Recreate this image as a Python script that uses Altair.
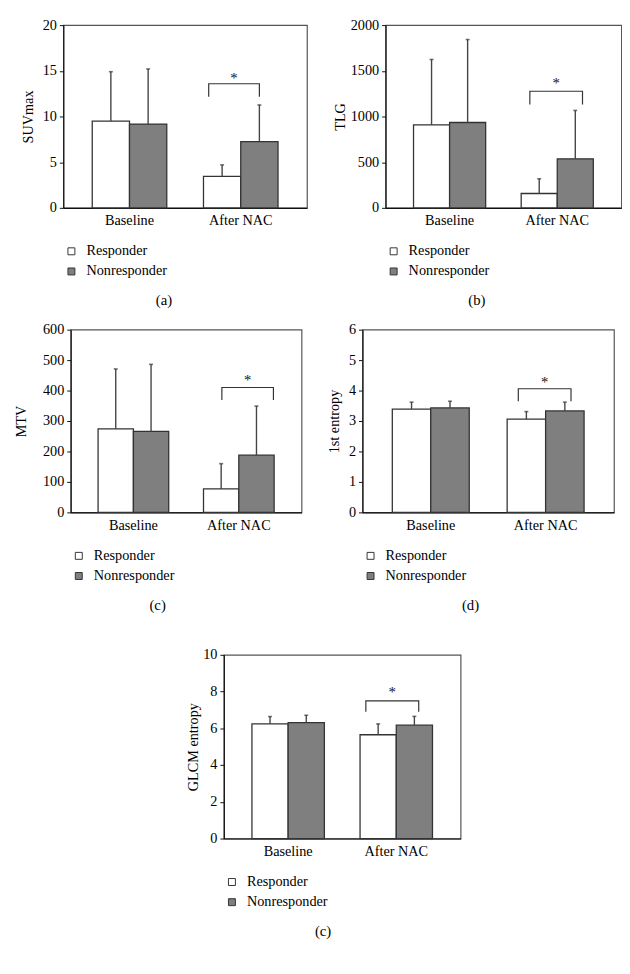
import altair as alt
import pandas as pd

FONT = "Liberation Serif"

groups = ["Baseline", "After NAC"]
series = ["Responder", "Nonresponder"]

# order: Baseline-Responder, Baseline-Nonresponder, AfterNAC-Responder, AfterNAC-Nonresponder
suv_mean = [9.49, 9.17, 3.44, 7.24]
suv_upper = [14.9, 15.2, 4.7, 11.26]
tlg_mean = [908, 934, 157, 537]
tlg_upper = [1624, 1842, 318, 1066]
mtv_mean = [274, 266, 77, 188]
mtv_upper = [471, 486, 160, 349]
ent_mean = [3.39, 3.43, 3.06, 3.33]
ent_upper = [3.62, 3.65, 3.31, 3.62]
glcm_mean = [6.24, 6.31, 5.65, 6.17]
glcm_upper = [6.64, 6.71, 6.24, 6.65]

# significance bracket: leg bottom, top, star level (data units of each panel)
suv_sig = [12.15, 13.58, 14.2]
tlg_sig = [1132, 1276, 1365]
mtv_sig = [369, 410, 436]
ent_sig = [3.65, 4.06, 4.28]
glcm_sig = [6.9, 7.49, 7.97]
# bracket ends as fraction of the After-NAC group band
suv_br = [0.07, 0.75]
tlg_br = [0.12, 0.85]
mtv_br = [0.26, 0.99]
ent_br = [0.145, 0.83]
glcm_br = [0.08, 0.81]

DARK = "#333333"


def panel(ytitle, ymax, ystep, means, uppers, sig, br, caption, width, ext, tpad, height=186):
    df = pd.DataFrame({
        "group": [g for g in groups for _ in series],
        "series": [s for _ in groups for s in series],
        "value": means,
        "upper": uppers,
    })
    bdf = pd.DataFrame({
        "group": ["After NAC"] * 4,
        "pos": [br[0], br[0], br[1], br[1]],
        "val": [sig[0], sig[1], sig[1], sig[0]],
        "ord": [0, 1, 2, 3],
    })
    sdf = pd.DataFrame({"group": ["After NAC"], "pos": [(br[0] + br[1]) / 2], "val": [sig[2]]})

    x = alt.X("group:N", sort=groups, title=None,
              scale=alt.Scale(domain=groups, paddingInner=0.33, paddingOuter=0.26),
              axis=alt.Axis(labelAngle=0, ticks=False, domainColor="#111", domainWidth=1.2,
                            labelFont=FONT, labelFontSize=14.5, labelColor="black", labelPadding=6))

    def yq(field):
        return alt.Y(field, title=ytitle,
                     scale=alt.Scale(domain=[0, ymax], nice=False, zero=True),
                     axis=alt.Axis(values=list(range(0, ymax + 1, ystep)), format="d", grid=False,
                                   tickSize=4, tickColor="#111", domainColor="#111", domainWidth=1.2,
                                   labelFont=FONT, labelFontSize=14.5, labelColor="black", labelPadding=3,
                                   minExtent=ext, maxExtent=ext,
                                   titleFont=FONT, titleFontSize=14.5, titleFontWeight="normal",
                                   titleColor="black", titlePadding=tpad))

    xo = alt.XOffset("series:N", sort=series, scale=alt.Scale(domain=series, paddingInner=0, paddingOuter=0))
    xq = alt.XOffset("pos:Q", scale=alt.Scale(domain=[0, 1], nice=False, zero=False))

    bars = alt.Chart(df).mark_bar(stroke=DARK, strokeWidth=1.3).encode(
        x=x, xOffset=xo, y=yq("value:Q"),
        color=alt.Color("series:N", sort=series,
                        scale=alt.Scale(domain=series, range=["#ffffff", "#7f7f7f"]),
                        legend=alt.Legend(orient="none", legendX=1, legendY=height + 37, title=None,
                                          symbolType="square", symbolSize=50, symbolStrokeColor=DARK,
                                          symbolStrokeWidth=1, labelFont=FONT, labelFontSize=14.5,
                                          labelColor="black", labelOffset=8, rowPadding=5.5, padding=0)))
    err = alt.Chart(df).mark_rule(color="#444", strokeWidth=1.4).encode(
        x=x, xOffset=xo, y=yq("value:Q"), y2="upper:Q")
    cap = alt.Chart(df).mark_tick(color="#333", thickness=1.6, size=4).encode(
        x=x, xOffset=xo, y=yq("upper:Q"))
    bracket = alt.Chart(bdf).mark_line(color=DARK, strokeWidth=1.2).encode(
        x=x, xOffset=xq, y=yq("val:Q"), order="ord:Q")
    star = alt.Chart(sdf).mark_text(text="*", font=FONT, fontSize=15, baseline="middle",
                                    color="#111111").encode(
        x=x, xOffset=xq, y=yq("val:Q"))

    return alt.layer(bars, err, cap, bracket, star).resolve_scale(xOffset="independent").properties(
        width=width, height=height,
        title=alt.TitleParams(caption, orient="bottom", anchor="middle", frame="bounds",
                              font=FONT, fontSize=15, fontWeight="normal", color="black", offset=15))


pa = panel("SUVmax", 20, 5, suv_mean, suv_upper, suv_sig, suv_br, "(a)", 248, ext=23, tpad=5)
pb = panel("TLG", 2000, 500, tlg_mean, tlg_upper, tlg_sig, tlg_br, "(b)", 240, ext=37, tpad=2)
pc = panel("MTV", 600, 100, mtv_mean, mtv_upper, mtv_sig, mtv_br, "(c)", 235, ext=34, tpad=9)
pd_ = panel("1st entropy", 6, 1, ent_mean, ent_upper, ent_sig, ent_br, "(d)", 256, ext=18, tpad=3)
pe = panel("GLCM entropy", 10, 2, glcm_mean, glcm_upper, glcm_sig, glcm_br, "(c)", 241, ext=22, tpad=2,
           height=187)


def indep(c):
    return c.resolve_scale(x="independent", y="independent", color="independent",
                           xOffset="independent").resolve_legend(color="independent").resolve_axis(
        x="independent", y="independent")


row1 = indep(alt.hconcat(pa, pb, spacing=24))
row2 = indep(alt.hconcat(pc, pd_, spacing=24))
top = indep(alt.vconcat(row1, row2, spacing=12, center=True))
chart = indep(alt.vconcat(top, pe, spacing=33, center=True))

chart = chart.configure(padding={"left": 5, "top": 0, "right": 0, "bottom": 0}).configure_view(
    stroke="#555", strokeWidth=1.2)

chart.save("out.html", embed_options={"renderer": "svg", "actions": False})
